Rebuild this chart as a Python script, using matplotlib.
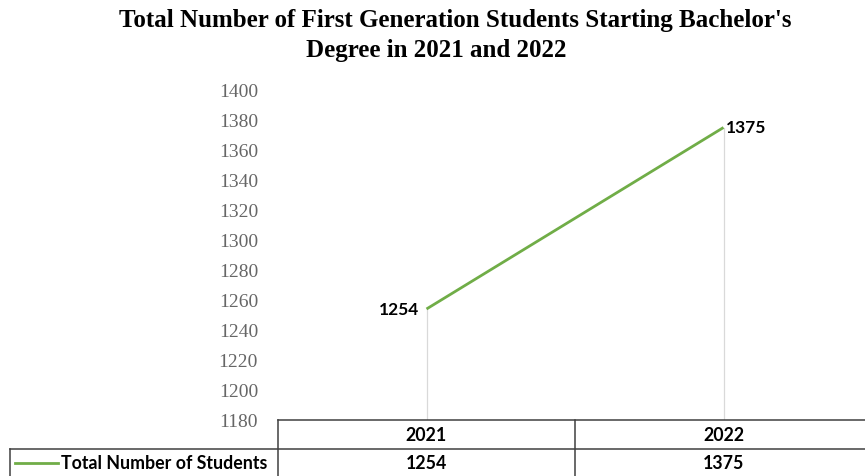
import matplotlib
matplotlib.use("Agg")
import matplotlib.pyplot as plt
from matplotlib.transforms import blended_transform_factory

categories = ["2021", "2022"]
values = [1254, 1375]
series_name = "Total Number of Students"
title_lines = ["Total Number of First Generation Students Starting Bachelor's",
               "Degree in 2021 and 2022"]
yticks = list(range(1180, 1401, 20))

W, H = 865, 477
fig = plt.figure(figsize=(W / 100, H / 100), dpi=100)
left_px, top_px, bottom_px = 278, 91, 421
ax = fig.add_axes([left_px / W, (H - bottom_px) / H, (W - left_px) / W, (bottom_px - top_px) / H])

green = "#70AD47"
x = list(range(len(categories)))
ax.plot(x, values, color=green, lw=2.0, solid_capstyle="butt", zorder=3)
for xi, v in zip(x, values):
    ax.plot([xi, xi], [1180, v], color="#D9D9D9", lw=0.9, zorder=1)

ax.set_ylim(1180, 1400)
cat_px = 297
ax.set_xlim(-0.5, -0.5 + (W - left_px) / cat_px)
ax.set_yticks(yticks)
ax.set_yticklabels([str(t) for t in yticks], fontfamily="Liberation Serif", fontsize=14, color="#666666")
ax.tick_params(axis="y", length=0, pad=14.4)
ax.set_xticks([])
for s in ax.spines.values():
    s.set_visible(False)

lab_font = dict(fontfamily="Lato", fontweight="bold", fontsize=12.5, color="black")
ax.annotate(str(values[0]), (x[0], values[0]), xytext=(-5, 0), textcoords="offset points",
            ha="right", va="center", **lab_font)
ax.annotate(str(values[1]), (x[1], values[1]), xytext=(2, 0), textcoords="offset points",
            ha="left", va="center", **lab_font)

# data table
axh = bottom_px - top_px
r1 = -29 / axh
r2 = -60 / axh
tcol = "#404040"
bt = blended_transform_factory(ax.transData, ax.transAxes)
ft = blended_transform_factory(fig.transFigure, ax.transAxes)
lw = 1.1
ax.plot([-0.5, 1.6], [0, 0], transform=bt, color=tcol, lw=lw, clip_on=False)
ax.plot([10 / W, 1.0], [r1, r1], transform=ft, color=tcol, lw=lw, clip_on=False)
ax.plot([-0.5, -0.5], [0, r2], transform=bt, color=tcol, lw=lw, clip_on=False)
ax.plot([0.5, 0.5], [0, r2], transform=bt, color=tcol, lw=lw, clip_on=False)
ax.plot([10 / W, 10 / W], [r1, r2], transform=ft, color=tcol, lw=lw, clip_on=False)
tab_font = dict(fontfamily="Lato", fontweight="bold", fontsize=12.8, color="black")
for xi, c, v in zip(x, categories, values):
    ax.text(xi, r1 / 2, c, transform=bt, ha="center", va="center", **tab_font)
    ax.text(xi, (r1 + r2) / 2 + 0.005, str(v), transform=bt, ha="center", va="center", **tab_font)
ax.plot([15 / W, 58 / W], [(r1 + r2) / 2 + 0.005] * 2, transform=ft, color=green, lw=2.0, clip_on=False)
ax.text(61 / W, (r1 + r2) / 2 + 0.005, series_name, transform=ft, ha="left", va="center", **tab_font)

title_font = dict(fontfamily="Liberation Serif", fontweight="bold", fontsize=18, ha="center", va="center")
fig.text(455 / W, 1 - 20 / H, title_lines[0], **title_font)
fig.text(436 / W, 1 - 50 / H, title_lines[1], **title_font)

fig.savefig("out.png", dpi=100)
